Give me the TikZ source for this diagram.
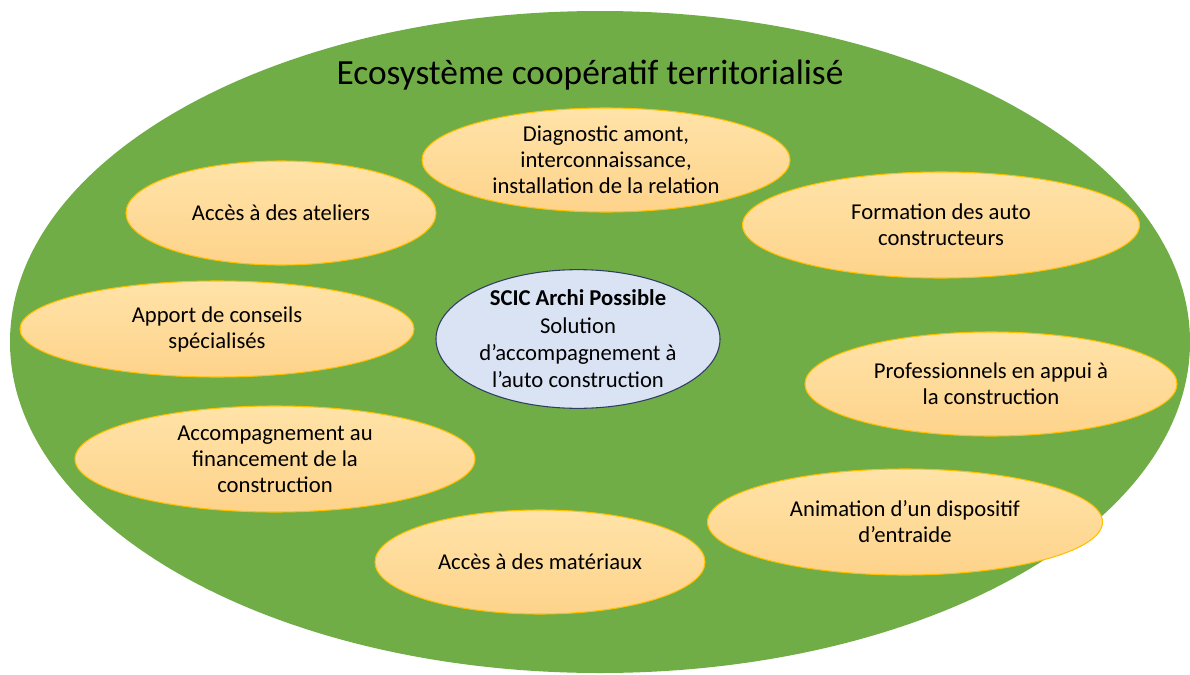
\documentclass[tikz,border=0pt]{standalone}
\usepackage{fontspec}
\setmainfont{Carlito}
\usetikzlibrary{shapes.geometric}
\definecolor{ecogreen}{HTML}{70AD47}
\definecolor{petaltop}{HTML}{FFE3A8}
\definecolor{petalbot}{HTML}{FED38B}
\definecolor{petalline}{HTML}{FFC000}
\definecolor{corefill}{HTML}{DAE3F3}
\definecolor{coreline}{HTML}{2F3D62}
\tikzset{
  petal/.style 2 args={ellipse,draw=petalline,line width=0.8pt,top color=petaltop,bottom color=petalbot,
    minimum width=#1*0.75pt,minimum height=#2*0.75pt,inner sep=0pt,align=center,
    font=\fontsize{17}{19.5}\selectfont},
  core/.style={ellipse,draw=coreline,line width=0.8pt,fill=corefill,
    minimum width=284*0.75pt,minimum height=130*0.75pt,inner sep=0pt,align=center,
    font=\fontsize{17}{20.5}\selectfont}
}
\begin{document}
\begin{tikzpicture}[x=0.75pt,y=-0.75pt]
\useasboundingbox (0,0) rectangle (1190,675);
% territory
\begin{scope}
\clip (0,0) rectangle (1190,675);
\fill[ecogreen] (600,342) ellipse [x radius=590, y radius=331];
\end{scope}
\node[font=\fontsize{26.5}{30}\selectfont] (eco) at (590,75) {Ecosystème coopératif territorialisé};
% services around the core
\node[petal={368}{104}] (diag) at (606,160) {Diagnostic amont,\\interconnaissance,\\installation de la relation};
\node[petal={310}{104}] (atel) at (281,213) {Accès à des ateliers};
\node[petal={397}{106}] (form) at (941,225) {Formation des auto\\constructeurs};
\node[petal={394}{96}] (cons) at (217,329) {Apport de conseils\\spécialisés};
\node[petal={372}{104}] (pros) at (991,384) {Professionnels en appui à\\la construction};
\node[petal={400}{106}] (fina) at (275,459) {Accompagnement au\\financement de la\\construction};
\node[petal={395}{106}] (anim) at (905,522) {Animation d’un dispositif\\d’entraide};
\node[petal={330}{104}] (mate) at (540,562) {Accès à des matériaux};
% core
\node[core] (scic) at (578,339) {\textbf{SCIC Archi Possible}\\Solution\\d’accompagnement à\\l’auto construction};
\end{tikzpicture}
\end{document}
